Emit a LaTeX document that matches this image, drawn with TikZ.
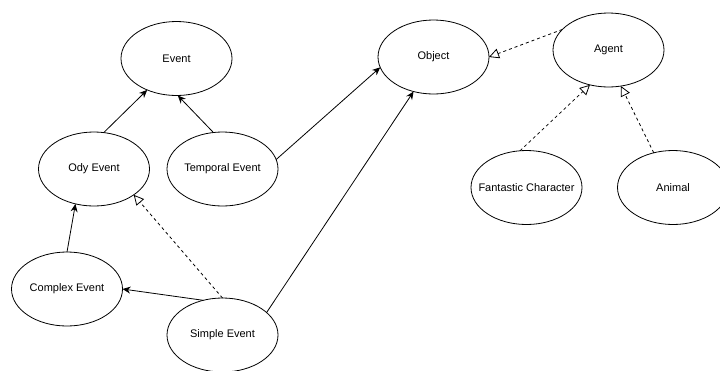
\documentclass[tikz,border=0pt]{standalone}
\usepackage{fontspec}
\setmainfont{Liberation Sans}
\usetikzlibrary{shapes.geometric,arrows.meta}
\tikzset{
    font = \fontsize{11pt}{13pt}\selectfont,
    every node/.style = {
        inner sep = 0pt,
        outer sep = 0pt
    },
    concept/.style = {
        ellipse,
        draw,
        line width = 0.8pt,
        minimum width = 111pt,
        minimum height = 74pt
    },
    assoc/.style = {
        -{Stealth[length=8pt,width=7pt]},
        line width = 0.8pt
    },
    realize/.style = {
        -{Triangle[open,length=10pt,width=10pt]},
        dashed,
        line width = 0.8pt
    }
}

\begin{document}
\begin{tikzpicture}
    \useasboundingbox (0,0) rectangle (720pt,-370pt);
    % concepts
    \node (event) at (176.5pt,-58.5pt) [concept]{Event};
    \node (object) at (433.5pt,-57pt) [concept]{Object};
    \node (agent) at (608.5pt,-50pt) [concept]{Agent};
    \node (ody) at (94pt,-169pt) [concept]{Ody Event};
    \node (temporal) at (222.5pt,-169pt) [concept]{Temporal Event};
    \node (fantastic) at (526.5pt,-187.5pt) [concept, inner xsep=-9pt]{Fantastic Character};
    \node (animal) at (673pt,-187.5pt) [concept]{Animal};
    \node (complex) at (67pt,-289pt) [concept]{Complex Event};
    \node (simple) at (222.5pt,-335pt) [concept]{Simple Event};
    % links
    \draw[assoc] (ody.75) -- (event.227);
    \draw[assoc] (temporal.104) -- (event.272);
    \draw[assoc] (temporal.10) -- (object.191);
    \draw[assoc] (simple.27) -- (object.240);
    \draw[assoc] (simple.119) -- (complex.east);
    \draw[assoc] (complex.north) -- (ody.242);
    \draw[realize] (simple.north) -- (ody.-33);
    \draw[realize] (agent.156) -- (object.east);
    \draw[realize] (fantastic.100) -- (agent.242);
    \draw[realize] (animal.119) -- (agent.-71);
\end{tikzpicture}
\end{document}
